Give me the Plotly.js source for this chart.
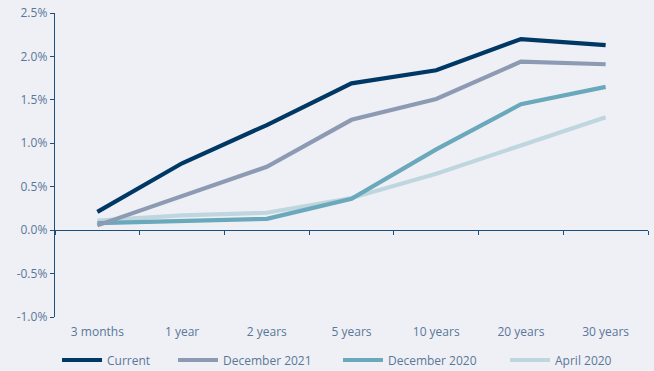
<!DOCTYPE html>
<html>
<head>
<meta charset="utf-8">
<script src="https://cdn.plot.ly/plotly-3.0.1.min.js"></script>
<style>html,body{margin:0;padding:0;background:#eff0f5;}#chart{width:654px;height:371px;}</style>
</head>
<body>
<div id="chart"></div>
<script>
const categories = ["3 months", "1 year", "2 years", "5 years", "10 years", "20 years", "30 years"];
const seriesNames = ["Current", "December 2021", "December 2020", "April 2020"];
const current = [0.21, 0.77, 1.21, 1.69, 1.84, 2.20, 2.13];
const dec2021 = [0.055, 0.39, 0.73, 1.27, 1.51, 1.94, 1.91];
const dec2020 = [0.08, 0.11, 0.13, 0.36, 0.93, 1.45, 1.65];
const apr2020 = [0.11, 0.17, 0.20, 0.37, 0.65, 0.97, 1.30];
const yTickVals = [-1.0, -0.5, 0.0, 0.5, 1.0, 1.5, 2.0, 2.5];
const yTickText = ["-1.0%", "-0.5%", "0.0%", "0.5%", "1.0%", "1.5%", "2.0%", "2.5%"];

const colors = ["#003865", "#8c9bb3", "#6aa8bb", "#c0d6df"];
const values = [current, dec2021, dec2020, apr2020];
const legendIds = ["legend", "legend2", "legend3", "legend4"];
const legendX = [0.0034, 0.199, 0.4772, 0.7589];

const traces = values.map((v, i) => ({
  type: "scatter", mode: "lines", x: categories, y: v.map(n => n / 100),
  name: seriesNames[i], line: {color: colors[i], width: 4.2},
  legend: legendIds[i]
})).reverse();

const font = {family: "'Open Sans', Lato, sans-serif", size: 12, color: "#5a7799"};
const layout = {
  width: 654, height: 371,
  paper_bgcolor: "#eff0f5", plot_bgcolor: "#eff0f5",
  margin: {l: 55, r: 6, t: 13, b: 54},
  font: font,
  showlegend: true,
  xaxis: {type: "category", showline: false, showgrid: false, zeroline: false,
          ticks: "", tickfont: font, range: [-0.5, 6.5], fixedrange: true, ticklabelstandoff: 6},
  xaxis2: {type: "category", matches: "x", overlaying: "x", anchor: "free",
           position: 1 / 3.5, showline: true, linecolor: "#1f4e79", linewidth: 1.3,
           ticks: "outside", tickson: "boundaries", ticklen: 4, tickcolor: "#1f4e79",
           showticklabels: false, showgrid: false, zeroline: false},
  yaxis: {range: [-0.01, 0.025], tickvals: yTickVals.map(n => n / 100), ticktext: yTickText,
          showline: true, linecolor: "#1f4e79", linewidth: 1.3,
          ticks: "outside", ticklen: 4, tickcolor: "#1f4e79",
          showgrid: false, zeroline: false, tickfont: font}
};
legendIds.forEach((id, i) => {
  layout[id] = {orientation: "h", x: legendX[i], xanchor: "left", yref: "container",
                y: 11 / 371, yanchor: "middle", font: font, itemwidth: 40,
                bgcolor: "rgba(0,0,0,0)"};
});
traces.push({type: "scatter", mode: "lines", x: categories, y: categories.map(() => null),
             xaxis: "x2", showlegend: false, hoverinfo: "skip"});
Plotly.newPlot("chart", traces, layout, {staticPlot: true});
</script>
</body>
</html>
